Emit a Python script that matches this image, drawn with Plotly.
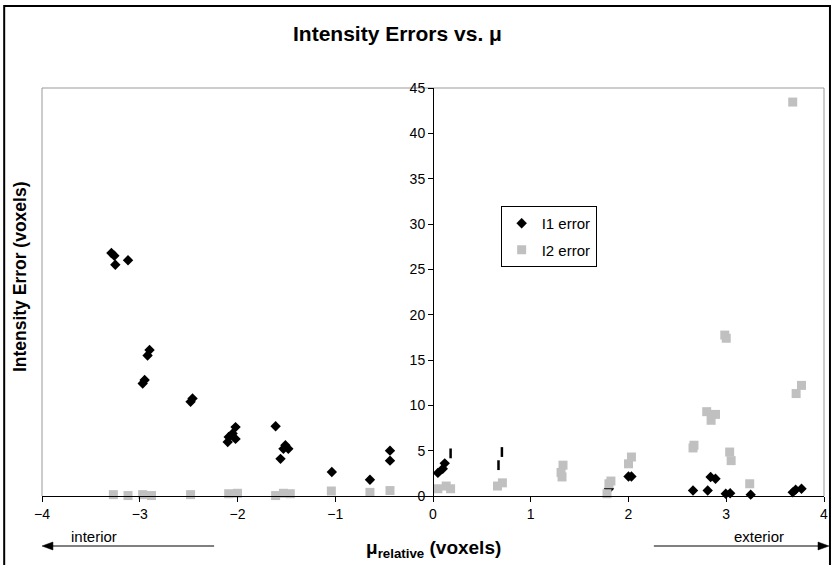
import plotly.graph_objects as go

# ---- data ----
I1_x = [-3.29, -3.26, -3.25, -3.12, -2.90, -2.92, -2.95, -2.97, -2.46, -2.48,
        -2.02, -2.05, -2.09, -2.10, -2.02, -1.61, -1.51, -1.53, -1.48, -1.56,
        -1.035, -0.645, -0.44, -0.44, 0.05, 0.10, 0.12, 1.80, 2.00, 2.03,
        2.66, 2.81, 2.84, 2.89, 2.995, 3.04, 3.25, 3.68, 3.71, 3.77,
        0.18, 0.67, 0.705]
I1_y = [26.8, 26.5, 25.5, 26.0, 16.1, 15.5, 12.8, 12.4, 10.75, 10.4,
        7.6, 6.9, 6.5, 5.95, 6.3, 7.7, 5.6, 5.2, 5.2, 4.1,
        2.65, 1.8, 5.0, 3.9, 2.55, 3.0, 3.6, 0.8, 2.15, 2.15,
        0.6, 0.6, 2.1, 1.9, 0.25, 0.3, 0.15, 0.4, 0.7, 0.8,
        4.7, 3.4, 4.85]
I1_kind = ["d"] * 40 + ["f"] * 3

I2_x = [-3.27, -3.12, -2.97, -2.88, -2.48, -2.09, -2.00, -1.61, -1.53, -1.46,
        -1.04, -0.645, -0.44, 0.05, 0.135, 0.18, 0.66, 0.71, 1.31, 1.32,
        1.33, 1.78, 1.80, 1.82, 2.00, 2.03, 2.66, 2.67, 2.80, 2.845,
        2.89, 2.985, 3.00, 3.035, 3.05, 3.24, 3.68, 3.715, 3.77]
I2_y = [0.15, 0.05, 0.15, 0.05, 0.15, 0.25, 0.3, 0.05, 0.3, 0.25,
        0.55, 0.4, 0.6, 0.8, 1.1, 0.8, 1.1, 1.45, 2.6, 2.1,
        3.4, 0.25, 1.35, 1.65, 3.55, 4.3, 5.3, 5.6, 9.3, 8.35,
        9.0, 17.75, 17.4, 4.85, 3.9, 1.35, 43.45, 11.3, 12.2]

x_ticks = [-4, -3, -2, -1, 0, 1, 2, 3, 4]
y_ticks = [0, 5, 10, 15, 20, 25, 30, 35, 40, 45]

FONT = "Liberation Sans, Arial, sans-serif"

sym = ["diamond" if k == "d" else "line-ns-open" for k in I1_kind]
siz = [8 if k == "d" else 7 for k in I1_kind]
lw = [0 if k == "d" else 2.5 for k in I1_kind]

fig = go.Figure()
fig.add_trace(go.Scatter(
    x=I1_x, y=I1_y, mode="markers", name="I1 error", legendgroup="a",
    cliponaxis=False,
    marker=dict(symbol=sym, size=siz, color="black", opacity=1,
                line=dict(color="black", width=lw)),
))
fig.add_trace(go.Scatter(
    x=I2_x, y=I2_y, mode="markers", name="I2 error", legendgroup="b",
    cliponaxis=False,
    marker=dict(symbol="square", size=9, color="#C0C0C0", opacity=1,
                line=dict(width=0)),
))

L, R, T, B = 42, 8, 88, 69
W, H = 836, 565
pw, ph = W - L - R, H - T - B


def px(xpix):
    return (xpix - L) / pw


def py(ypix):
    return (H - B - ypix) / ph


fig.update_layout(
    width=W, height=H,
    margin=dict(l=L, r=R, t=T, b=B),
    paper_bgcolor="white", plot_bgcolor="white",
    font=dict(family=FONT, size=14, color="black"),
    showlegend=True,
    legend=dict(x=px(503), y=py(206), xanchor="left", yanchor="top",
                bordercolor="black", borderwidth=1, bgcolor="white",
                font=dict(size=15), tracegroupgap=4, itemwidth=30),
    xaxis=dict(range=[-4, 4], tickvals=x_ticks, ticks="outside", ticklen=5,
               tickcolor="black", showline=True, linecolor="black",
               linewidth=1, showgrid=False, zeroline=False,
               tickfont=dict(size=14)),
    yaxis=dict(range=[0, 45], tickvals=y_ticks, ticks="outside", ticklen=5,
               tickcolor="black", showline=True, linecolor="black",
               linewidth=1, showgrid=False, zeroline=False,
               anchor="free", position=0.5, tickfont=dict(size=14)),
)

# plot area border (gray) and chart border (black)
fig.add_shape(type="path", xref="paper", yref="paper",
              path="M 0 0 L 0 1 L 1 1 L 1 0",
              line=dict(color="#999999", width=1), layer="below")
fig.add_shape(type="path", xref="paper", yref="paper",
              path=f"M {px(4)} -0.3 L {px(4)} {py(6)} L {px(834)} {py(6)} L {px(834)} -0.3",
              line=dict(color="black", width=2))

# direction arrows (lines + triangular heads)
ya = py(546)
hh = 4 / ph
hw = 11 / pw
fig.add_shape(type="line", xref="paper", yref="paper",
              x0=px(48), x1=px(215), y0=ya, y1=ya,
              line=dict(color="black", width=1))
fig.add_shape(type="path", xref="paper", yref="paper",
              path=f"M {px(42)} {ya} L {px(42)+hw} {ya+hh} L {px(42)+hw} {ya-hh} Z",
              fillcolor="black", line=dict(color="black", width=0.5))
fig.add_shape(type="line", xref="paper", yref="paper",
              x0=px(657), x1=px(827), y0=ya, y1=ya,
              line=dict(color="black", width=1))
fig.add_shape(type="path", xref="paper", yref="paper",
              path=f"M {px(833)} {ya} L {px(833)-hw} {ya+hh} L {px(833)-hw} {ya-hh} Z",
              fillcolor="black", line=dict(color="black", width=0.5))

ann = []
ann.append(dict(text="<b>Intensity Errors vs. μ</b>", x=px(399), y=py(33),
                xref="paper", yref="paper", showarrow=False,
                font=dict(size=21), xanchor="center", yanchor="middle"))
ann.append(dict(text="<b>Intensity Error (voxels)</b>", x=px(20), y=py(277),
                xref="paper", yref="paper", showarrow=False, textangle=-90,
                font=dict(size=17.5), xanchor="center", yanchor="middle"))
ann.append(dict(text="<b>μ<sub>relative</sub> (voxels)</b>", x=px(436), y=py(549),
                xref="paper", yref="paper", showarrow=False,
                font=dict(size=19), xanchor="center", yanchor="middle"))
ann.append(dict(text="interior", x=px(94), y=py(536), xref="paper", yref="paper",
                showarrow=False, font=dict(size=15), xanchor="center",
                yanchor="middle"))
ann.append(dict(text="exterior", x=px(763), y=py(536), xref="paper", yref="paper",
                showarrow=False, font=dict(size=15), xanchor="center",
                yanchor="middle"))
fig.update_layout(annotations=ann)

fig.write_html("out.html")
